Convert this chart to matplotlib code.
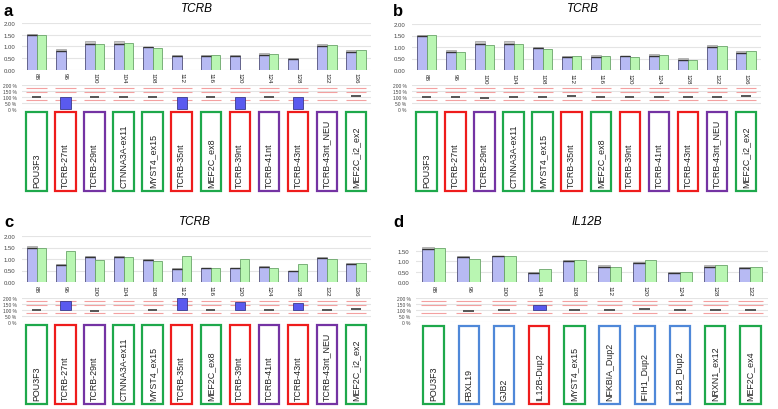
import numpy as np
import matplotlib
matplotlib.use("Agg")
from matplotlib import pyplot as plt
from matplotlib.patches import Rectangle

plt.rcParams["font.family"] = ["Liberation Sans", "DejaVu Sans"]

# ---- data ----
tcrb_sizes = [88, 96, 100, 104, 108, 112, 116, 120, 124, 128, 132, 136]
tcrb_probes = ["POU3F3", "TCRB-27nt", "TCRB-29nt", "CTNNA3A-ex11", "MYST4_ex15",
               "TCRB-35nt", "MEF2C_ex8", "TCRB-39nt", "TCRB-41nt", "TCRB-43nt",
               "TCRB-43nt_NEU", "MEF2C_i2_ex2"]
tcrb_types = ["ref", "target", "other", "ref", "ref", "target", "ref", "target",
              "other", "target", "other", "ref"]

il12b_sizes = [88, 96, 100, 104, 108, 112, 120, 124, 128, 132]
il12b_probes = ["POU3F3", "FBXL19", "GJB2", "IL12B-Dup2", "MYST4_ex15", "NFKBIA_Dup2",
                "IFIH1_Dup2", "IL12B_Dup2", "NRXN1_ex12", "MEF2C_ex4"]
il12b_types = ["ref", "dup", "dup", "target", "ref", "dup", "dup", "dup", "ref", "ref"]

# blue = reference mean, blue_err = top of its spread, green = sample, ratio in %
a_blue = [1.50, 0.78, 1.12, 1.12, 0.97, 0.58, 0.60, 0.60, 0.62, 0.47, 1.00, 0.75]
a_blue_err = [1.53, 0.87, 1.25, 1.25, 0.98, 0.62, 0.63, 0.63, 0.70, 0.52, 1.08, 0.83]
a_green = [1.47, 0.0, 1.10, 1.13, 0.95, 0.0, 0.65, 0.0, 0.67, 0.0, 1.05, 0.83]
a_ratio = [98, 0, 97, 99, 99, 0, 104, 0, 103, 0, None, 106]

b_blue = [1.48, 0.78, 1.12, 1.12, 0.97, 0.58, 0.57, 0.60, 0.60, 0.45, 1.00, 0.75]
b_blue_err = [1.53, 0.87, 1.25, 1.25, 0.99, 0.60, 0.65, 0.63, 0.70, 0.52, 1.10, 0.83]
b_green = [1.52, 0.80, 1.07, 1.12, 0.90, 0.62, 0.63, 0.57, 0.65, 0.45, 1.03, 0.82]
b_ratio = [101, 101, 95, 98, 98, 105, 104, 96, 102, 98, 100, 106]

c_blue = [1.50, 0.75, 1.07, 1.10, 0.97, 0.58, 0.60, 0.60, 0.65, 0.48, 1.05, 0.77]
c_blue_err = [1.57, 0.78, 1.12, 1.12, 0.98, 0.60, 0.62, 0.62, 0.68, 0.50, 1.08, 0.81]
c_green = [1.50, 1.33, 0.97, 1.10, 0.92, 1.15, 0.63, 1.02, 0.62, 0.78, 1.00, 0.83]
c_ratio = [99, 172, 92, None, 97, 198, 104, 167, 98, 158, 97, 106]

d_blue = [1.60, 1.20, 1.25, 0.43, 1.03, 0.75, 0.92, 0.45, 0.75, 0.70]
d_blue_err = [1.70, 1.25, 1.28, 0.47, 1.07, 0.82, 0.98, 0.47, 0.82, 0.73]
d_green = [1.65, 1.12, 1.25, 0.65, 1.07, 0.72, 1.07, 0.48, 0.82, 0.75]
d_ratio = [None, 95, 100, 140, 101, 96, 107, 102, 101, 103]

limits = [78, 142, 178]  # red threshold lines (%)

box_colors = {"ref": "#1ea84b", "target": "#ee1c1c", "other": "#7433a3", "dup": "#4f88d8"}

W, H = 778, 410
fig = plt.figure(figsize=(W / 100, H / 100), dpi=100)


def px(x0, x1, ytop, ybot):
    return [x0 / W, 1 - ybot / H, (x1 - x0) / W, (ybot - ytop) / H]


def panel(letter, gene, sizes, probes, types, blue, blue_err, green, ratio,
          x0, x1, bar_y, ratio_y, box_y, ymax_tick, title_x, title_y, letter_x, letter_y):
    n = len(sizes)
    x = np.arange(n)
    w = 0.33
    tick_col = "#444444"

    # --- bar chart ---
    ax = fig.add_axes(px(x0, x1, bar_y[0], bar_y[1]))
    ax.set_xlim(-0.5, n - 0.5)
    ax.set_ylim(0, 2.0)
    ax.bar(x - w / 2, np.array(blue_err) - np.array(blue) + 0.02, bottom=np.array(blue) - 0.02,
           width=w, color="#cccccc", edgecolor="#a0a0a0", linewidth=0.5, zorder=2)
    ax.bar(x - w / 2, blue, width=w, color="#b7baf3", edgecolor="#50507a", linewidth=0.6, zorder=3)
    ax.hlines(blue, x - w, x, color="#333333", linewidth=1.0, zorder=4)
    ax.bar(x + w / 2, green, width=w, color="#b9f6b2", edgecolor="#6aa56a", linewidth=0.6, zorder=3)
    yt = np.arange(0, ymax_tick + 0.01, 0.5)
    ax.set_yticks(yt)
    ax.set_yticklabels(["%.2f" % v for v in yt], fontsize=4.3, color=tick_col)
    ax.set_yticks([0], minor=True)
    ax.tick_params(axis="y", which="major", length=0, pad=5)
    ax.tick_params(axis="y", which="minor", length=4, width=0.6, color="#888888",
                   left=True, right=True)
    ax.set_xticks(x)
    ax.set_xticklabels([str(s) for s in sizes], rotation=270, fontsize=4.5, color="#222222")
    ax.tick_params(axis="x", length=0, pad=2)
    ax.grid(axis="y", color="#e4e4e4", linewidth=0.8, zorder=0)
    ax.set_axisbelow(True)
    for s in ax.spines.values():
        s.set_visible(False)

    # --- ratio strip ---
    ar = fig.add_axes(px(x0, x1, ratio_y[0], ratio_y[1]))
    ar.set_xlim(-0.5, n - 0.5)
    ar.set_ylim(0, 200)
    for lim in limits:
        ar.hlines([lim] * n, x - 0.35, x + 0.35, color="#f3a0a0", linewidth=0.8, zorder=2)
    for i, r in enumerate(ratio):
        if r is None:
            continue
        if r < 75 or r > 130:
            ar.bar(i, r - 100, bottom=100, width=0.36, color="#5a5aef",
                   edgecolor="#3a3a8a", linewidth=0.6, zorder=3, clip_on=False)
        else:
            ar.hlines(r, i - 0.16, i + 0.16, color="#555555", linewidth=1.4, zorder=3)
    ar.set_yticks([0, 50, 100, 150, 200])
    ar.set_yticklabels(["0 %", "50 %", "100 %", "150 %", "200 %"], fontsize=3.5, color=tick_col)
    ar.set_yticks([100], minor=True)
    ar.tick_params(axis="y", which="major", length=0, pad=4)
    ar.tick_params(axis="y", which="minor", length=4, width=0.6, color="#888888",
                   left=True, right=True)
    ar.set_xticks([])
    ar.grid(axis="y", color="#e4e4e4", linewidth=0.8, zorder=0)
    ar.set_axisbelow(True)
    for s in ar.spines.values():
        s.set_visible(False)

    # --- probe name boxes ---
    hb = box_y[1] - box_y[0]
    ab = fig.add_axes(px(x0, x1, box_y[0], box_y[1]))
    ab.set_xlim(-0.5, n - 0.5)
    ab.set_ylim(0, hb)
    bw = 20.5 / ((x1 - x0) / n)
    for i, (name, t) in enumerate(zip(probes, types)):
        ab.add_patch(Rectangle((i - bw / 2, 1), bw, hb - 2, fill=False,
                               edgecolor=box_colors[t], linewidth=1.6, clip_on=False))
        ab.text(i, 5, name, rotation=90, ha="center", va="bottom", fontsize=6.4, color="#222222")
    ab.axis("off")

    fig.text(title_x / W, 1 - title_y / H, gene, style="italic", fontsize=8.5,
             ha="center", va="baseline")
    fig.text(letter_x / W, 1 - letter_y / H, letter, fontweight="bold", fontsize=12,
             ha="left", va="baseline")


panel("a", "TCRB", tcrb_sizes, tcrb_probes, tcrb_types, a_blue, a_blue_err, a_green, a_ratio,
      22, 370.5, (24, 70.7), (86, 110), (112, 193), 2.0, 197, 12, 4, 16)
panel("b", "TCRB", tcrb_sizes, tcrb_probes, tcrb_types, b_blue, b_blue_err, b_green, b_ratio,
      412, 760.5, (25, 71), (86, 110), (112, 193), 2.0, 583, 12, 393, 16)
panel("c", "TCRB", tcrb_sizes, tcrb_probes, tcrb_types, c_blue, c_blue_err, c_green, c_ratio,
      22, 370.5, (237, 283), (299, 323), (325, 406), 2.0, 195, 225, 4, 227)
panel("d", "IL12B", il12b_sizes, il12b_probes, il12b_types, d_blue, d_blue_err, d_green, d_ratio,
      416, 768, (241.7, 283), (299, 323), (326, 406), 1.5, 587, 225, 393, 227)

plt.savefig("out.png", dpi=100)
